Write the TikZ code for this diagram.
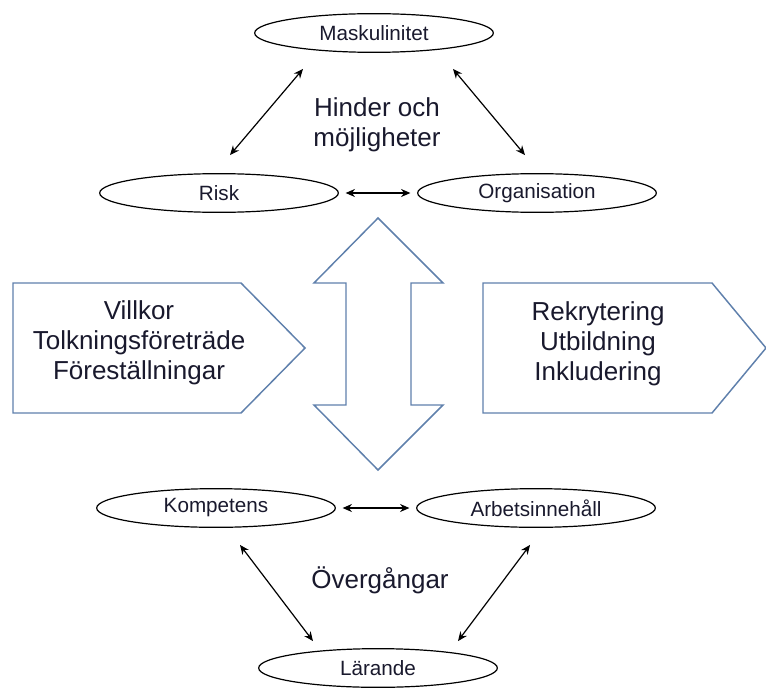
\documentclass[tikz,border=0pt]{standalone}
\usepackage{fontspec}
\setmainfont{Liberation Sans}
\usetikzlibrary{calc,arrows.meta,shapes.geometric}
\definecolor{kontur}{RGB}{95,128,172}
\definecolor{texte}{RGB}{25,25,45}
\tikzset{
    faktor/.style={ellipse, draw=black, line width=0.9pt, minimum width=179pt, minimum height=29pt,
      inner sep=0pt, text=texte, font=\fontsize{15.5}{18}\selectfont},
    pil/.style={<->, >={Stealth[length=7pt,width=6pt]}, line width=0.9pt},
    rubrik/.style={align=center, text=texte, font=\fontsize{19.5}{22.5}\selectfont},
    blockpil/.style={draw=kontur, line width=1.1pt, line join=miter},
  }
\begin{document}
\begin{tikzpicture}[x=0.75pt,y=-0.75pt]
  %koordinater i pixlar, y nedat
  %pilspetsar: ($(nod.south)+(dx,dy)$)
  \useasboundingbox (0,0) rectangle (766,688);
  \node[faktor] (mask) at (374,33) {Maskulinitet};
  \node[faktor] (risk) at (219,193) {Risk};
  \node[faktor] (org) at (537,193) {Organisation};
  \node[faktor] (komp) at (216,508) {Kompetens};
  \node[faktor] (arb) at (536,508) {Arbetsinnehåll};
  \node[faktor] (lar) at (378,668) {Lärande};
  \node[rubrik] (hinder) at (377,125) {Hinder och\\möjligheter};
  \node[rubrik] (overg) at (380,580) {Övergångar};
  % dubbelpil i mitten
  \draw[blockpil] (378,218) -- (443,283) -- (411,283) -- (411,405) -- (443,405) -- (378,470)
        -- (314,405) -- (346,405) -- (346,283) -- (314,283) -- cycle;
  % femhorningar
  \draw[blockpil] (13,283) -- (241,283) -- (305,348) -- (241,413) -- (13,413) -- cycle;
  \draw[blockpil] (483,283) -- (712,283) -- (766,348) -- (712,413) -- (483,413) -- cycle;
  \node[rubrik] (villkor) at (139,343) {Villkor\\Tolkningsföreträde\\Föreställningar};
  \node[rubrik] (rekr) at (598,344) {Rekrytering\\Utbildning\\Inkludering};
  % pilar
  \draw[pil, shorten <=5pt, shorten >=5pt] (risk.east) -- (org.west);
  \draw[pil, shorten <=5pt, shorten >=5pt] (komp.east) -- (arb.west);
  \draw[pil] ($(mask.south)+(-71,16)$) -- ($(risk.north)+(11,-18)$);
  \draw[pil] ($(mask.south)+(79,16)$) -- ($(org.north)+(-12,-18)$);
  \draw[pil] ($(komp.south)+(24,17)$) -- ($(lar.north)+(-65,-7)$);
  \draw[pil] ($(arb.south)+(-6,17)$) -- ($(lar.north)+(80,-7)$);
\end{tikzpicture}
\end{document}
